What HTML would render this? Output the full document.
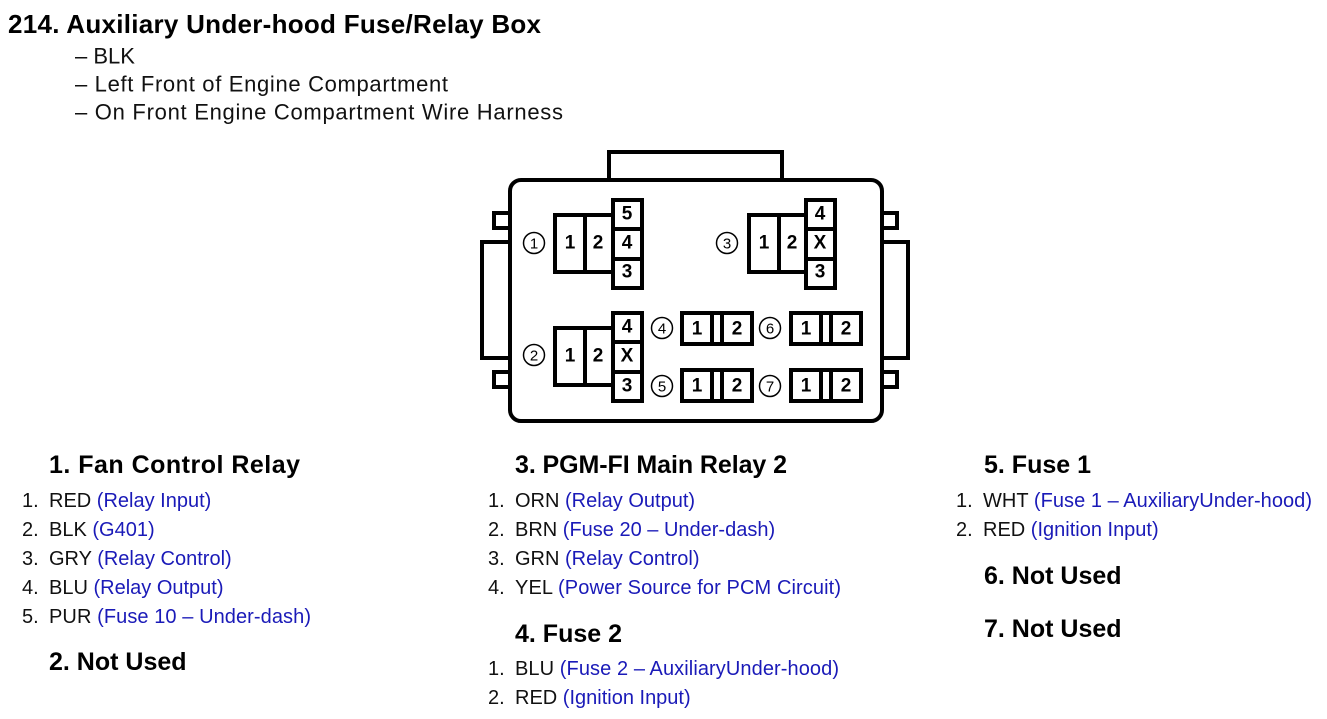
<!DOCTYPE html>
<html><head><meta charset="utf-8"><style>
html,body{margin:0;padding:0;background:#fff;}
svg{display:block;font-family:"Liberation Sans",Arial,sans-serif;}
.h{font-size:25px;font-weight:bold;fill:#000;}
.t{font-size:20px;fill:#111;}
.b{fill:#1a1ab8;}
.s{font-size:22px;fill:#111;}
.c{font-size:19px;font-weight:bold;fill:#000;text-anchor:middle;}
.n{font-size:15px;fill:#000;text-anchor:middle;}
</style></head><body>
<svg width="1327" height="719" viewBox="0 0 1327 719" dominant-baseline="central">
<text x="8" y="24" class="h" style="font-size:26px" textLength="533">214.  Auxiliary Under-hood Fuse/Relay Box</text>
<text x="75" y="56" class="s">– BLK</text>
<text x="75" y="84" class="s" textLength="373">– Left Front of Engine Compartment</text>
<text x="75" y="112" class="s" textLength="488">– On Front Engine Compartment Wire Harness</text>

<g fill="#fff" stroke="#000" stroke-width="4">
<rect x="609" y="152" width="173" height="30"/>
<rect x="482" y="242" width="30" height="116"/>
<rect x="494" y="213" width="18" height="15"/>
<rect x="494" y="372" width="18" height="15"/>
<rect x="880" y="242" width="28" height="116"/>
<rect x="880" y="213" width="17" height="15"/>
<rect x="880" y="372" width="17" height="15"/>
<rect x="510" y="180" width="372" height="241" rx="11"/>
<rect x="555" y="215" width="58" height="57"/>
<line x1="585" y1="215" x2="585" y2="272"/>
<rect x="613" y="200" width="29" height="88"/>
<line x1="613" y1="229" x2="642" y2="229"/><line x1="613" y1="259" x2="642" y2="259"/>
<rect x="749" y="215" width="57" height="57"/>
<line x1="779" y1="215" x2="779" y2="272"/>
<rect x="806" y="200" width="29" height="88"/>
<line x1="806" y1="229" x2="835" y2="229"/><line x1="806" y1="259" x2="835" y2="259"/>
<rect x="555" y="328" width="58" height="57"/>
<line x1="585" y1="328" x2="585" y2="385"/>
<rect x="613" y="313" width="29" height="88"/>
<line x1="613" y1="342" x2="642" y2="342"/><line x1="613" y1="372" x2="642" y2="372"/>
<rect x="682" y="313" width="70" height="31"/><line x1="712" y1="313" x2="712" y2="344"/><line x1="722" y1="313" x2="722" y2="344"/>
<rect x="682" y="370" width="70" height="31"/><line x1="712" y1="370" x2="712" y2="401"/><line x1="722" y1="370" x2="722" y2="401"/>
<rect x="791" y="313" width="70" height="31"/><line x1="821" y1="313" x2="821" y2="344"/><line x1="831" y1="313" x2="831" y2="344"/>
<rect x="791" y="370" width="70" height="31"/><line x1="821" y1="370" x2="821" y2="401"/><line x1="831" y1="370" x2="831" y2="401"/>
</g>
<g fill="none" stroke="#000" stroke-width="1.5">
<circle cx="534" cy="243" r="10.5"/><circle cx="727" cy="243" r="10.5"/><circle cx="534" cy="355" r="10.5"/>
<circle cx="662" cy="328" r="10.5"/><circle cx="662" cy="386" r="10.5"/><circle cx="770" cy="328" r="10.5"/><circle cx="770" cy="386" r="10.5"/>
</g>
<g>
<text x="534" y="244" class="n">1</text><text x="727" y="244" class="n">3</text><text x="534" y="356" class="n">2</text>
<text x="662" y="329" class="n">4</text><text x="662" y="387" class="n">5</text><text x="770" y="329" class="n">6</text><text x="770" y="387" class="n">7</text>
<text x="570" y="243" class="c">1</text><text x="598" y="243" class="c">2</text>
<text x="627" y="214" class="c">5</text><text x="627" y="243" class="c">4</text><text x="627" y="272" class="c">3</text>
<text x="764" y="243" class="c">1</text><text x="792" y="243" class="c">2</text>
<text x="820" y="214" class="c">4</text><text x="820" y="243" class="c">X</text><text x="820" y="272" class="c">3</text>
<text x="570" y="356" class="c">1</text><text x="598" y="356" class="c">2</text>
<text x="627" y="327" class="c">4</text><text x="627" y="356" class="c">X</text><text x="627" y="386" class="c">3</text>
<text x="697" y="329" class="c">1</text><text x="737" y="329" class="c">2</text>
<text x="697" y="386" class="c">1</text><text x="737" y="386" class="c">2</text>
<text x="806" y="329" class="c">1</text><text x="846" y="329" class="c">2</text>
<text x="806" y="386" class="c">1</text><text x="846" y="386" class="c">2</text>
</g>

<text x="49" y="465" class="h" textLength="251">1. Fan Control Relay</text>
<text x="22" y="501" class="t">1.</text><text x="49" y="501" class="t">RED <tspan class="b">(Relay Input)</tspan></text>
<text x="22" y="530" class="t">2.</text><text x="49" y="530" class="t">BLK <tspan class="b">(G401)</tspan></text>
<text x="22" y="559" class="t">3.</text><text x="49" y="559" class="t">GRY <tspan class="b">(Relay Control)</tspan></text>
<text x="22" y="588" class="t">4.</text><text x="49" y="588" class="t">BLU <tspan class="b">(Relay Output)</tspan></text>
<text x="22" y="617" class="t">5.</text><text x="49" y="617" class="t" textLength="262">PUR <tspan class="b">(Fuse 10 – Under-dash)</tspan></text>
<text x="49" y="662" class="h">2. Not Used</text>

<text x="515" y="465" class="h" textLength="272">3. PGM-FI Main Relay 2</text>
<text x="488" y="501" class="t">1.</text><text x="515" y="501" class="t">ORN <tspan class="b">(Relay Output)</tspan></text>
<text x="488" y="530" class="t">2.</text><text x="515" y="530" class="t">BRN <tspan class="b">(Fuse 20 – Under-dash)</tspan></text>
<text x="488" y="559" class="t">3.</text><text x="515" y="559" class="t">GRN <tspan class="b">(Relay Control)</tspan></text>
<text x="488" y="588" class="t">4.</text><text x="515" y="588" class="t" textLength="326">YEL <tspan class="b">(Power Source for PCM Circuit)</tspan></text>
<text x="515" y="634" class="h">4. Fuse 2</text>
<text x="488" y="669" class="t">1.</text><text x="515" y="669" class="t" textLength="324">BLU <tspan class="b">(Fuse 2 – AuxiliaryUnder-hood)</tspan></text>
<text x="488" y="698" class="t">2.</text><text x="515" y="698" class="t">RED <tspan class="b">(Ignition Input)</tspan></text>

<text x="984" y="465" class="h">5. Fuse 1</text>
<text x="956" y="501" class="t">1.</text><text x="983" y="501" class="t" textLength="329">WHT <tspan class="b">(Fuse 1 – AuxiliaryUnder-hood)</tspan></text>
<text x="956" y="530" class="t">2.</text><text x="983" y="530" class="t">RED <tspan class="b">(Ignition Input)</tspan></text>
<text x="984" y="576" class="h">6. Not Used</text>
<text x="984" y="629" class="h">7. Not Used</text>
</svg>
</body></html>
